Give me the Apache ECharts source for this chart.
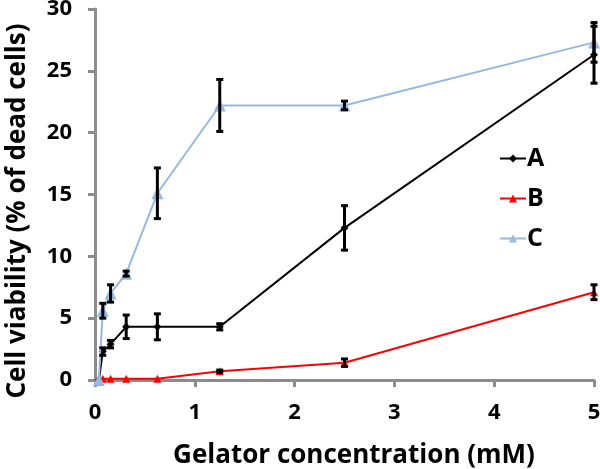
<!DOCTYPE html>
<html><head><meta charset="utf-8">
<script src="https://cdn.jsdelivr.net/npm/echarts@6/dist/echarts.min.js"></script>
<style>html,body{margin:0;padding:0;background:#fff}#c{width:600px;height:469px}</style>
</head><body><div id="c"></div>
<script>
const conc = [0.039, 0.078, 0.156, 0.3125, 0.625, 1.25, 2.5, 5];
const seriesNames = ['A', 'B', 'C'];
const valuesA = [0, 2.3, 2.9, 4.3, 4.3, 4.3, 12.3, 26.3];
const errorsA = [0, 0.3, 0.3, 0.95, 1.05, 0.25, 1.8, 2.3];
const valuesB = [0, 0.1, 0.1, 0.1, 0.1, 0.7, 1.4, 7.1];
const errorsB = [0, 0, 0, 0, 0, 0.1, 0.3, 0.6];
const valuesC = [0, 5.6, 7.0, 8.6, 15.1, 22.2, 22.2, 27.3];
const errorsC = [0, 0.6, 0.7, 0.2, 2.05, 2.1, 0.35, 1.6];
const xTicks = [0, 1, 2, 3, 4, 5];
const yTicks = [0, 5, 10, 15, 20, 25, 30];
const xTitle = 'Gelator concentration (mM)';
const yTitle = 'Cell viability (% of dead cells)';

const FONT = 'Open Sans';
const colors = ['#000000', '#ff0000', '#95b9df'];
const pairs = (v) => conc.map((x, i) => [x, v[i]]);
const errData = [];
[[valuesA, errorsA], [valuesB, errorsB], [valuesC, errorsC]].forEach(([v, e]) => {
  conc.forEach((x, i) => { if (e[i] > 0) errData.push([x, v[i] - e[i], v[i] + e[i]]); });
});

const chart = echarts.init(document.getElementById('c'), null, {renderer: 'canvas'});
chart.setOption({
  animation: false,
  grid: {left: 95, right: 6, top: 9, bottom: 89, containLabel: false, outerBoundsMode: 'none'},
  legend: {
    orient: 'vertical', left: 494, top: 141, itemGap: 15, itemWidth: 26, itemHeight: 10,
    data: seriesNames,
    textStyle: {fontFamily: FONT, fontWeight: 'bold', fontSize: 25, color: '#000', padding: [0, 0, 0, -4]}
  },
  graphic: [
    {type: 'text', x: 354, y: 456, style: {text: xTitle, fontFamily: FONT, fontWeight: 'bold', fontSize: 26,
      fill: '#000', align: 'center', verticalAlign: 'middle'}},
    {type: 'text', x: 18, y: 211, rotation: Math.PI / 2, style: {text: yTitle, fontFamily: FONT, fontWeight: 'bold',
      fontSize: 26, fill: '#000', align: 'center', verticalAlign: 'middle'}}
  ],
  xAxis: {
    type: 'value', min: 0, max: 5, interval: 1,
    axisLine: {lineStyle: {color: '#8c8c8c', width: 3}},
    axisTick: {show: true, length: 7, lineStyle: {color: '#8c8c8c', width: 3}},
    axisLabel: {fontFamily: FONT, fontWeight: 'bold', fontSize: 22, color: '#000', margin: 22,
      formatter: (v) => xTicks.includes(v) ? String(v) : ''},
    splitLine: {show: false}
  },
  yAxis: {
    type: 'value', min: 0, max: 30, interval: 5,
    axisLine: {show: true, lineStyle: {color: '#8c8c8c', width: 3}},
    axisTick: {show: true, length: 7, lineStyle: {color: '#8c8c8c', width: 3}},
    axisLabel: {fontFamily: FONT, fontWeight: 'bold', fontSize: 22, color: '#000', margin: 23,
      formatter: (v) => yTicks.includes(v) ? String(v) : ''},
    splitLine: {show: false}
  },
  series: [
    {name: 'A', type: 'line', data: pairs(valuesA), symbol: 'diamond', symbolSize: 8,
      lineStyle: {color: colors[0], width: 2}, itemStyle: {color: colors[0]}, z: 3},
    {name: 'B', type: 'line', data: pairs(valuesB), symbol: 'triangle', symbolSize: 8,
      lineStyle: {color: colors[1], width: 2}, itemStyle: {color: colors[1]}, z: 3},
    {name: 'C', type: 'line', data: pairs(valuesC), symbol: 'triangle', symbolSize: 12,
      lineStyle: {color: colors[2], width: 2}, itemStyle: {color: colors[2]}, z: 4},
    {name: 'err', type: 'custom', data: errData, z: 5, silent: true,
      renderItem: (params, api) => {
        const x = api.value(0);
        const lo = api.coord([x, api.value(1)]);
        const hi = api.coord([x, api.value(2)]);
        const w = 3.5;
        const st = {stroke: '#000', lineWidth: 3};
        return {type: 'group', children: [
          {type: 'line', shape: {x1: lo[0], y1: lo[1], x2: hi[0], y2: hi[1]}, style: st},
          {type: 'line', shape: {x1: lo[0] - w, y1: lo[1], x2: lo[0] + w, y2: lo[1]}, style: st},
          {type: 'line', shape: {x1: hi[0] - w, y1: hi[1], x2: hi[0] + w, y2: hi[1]}, style: st}
        ]};
      }
    }
  ]
});
</script></body></html>
